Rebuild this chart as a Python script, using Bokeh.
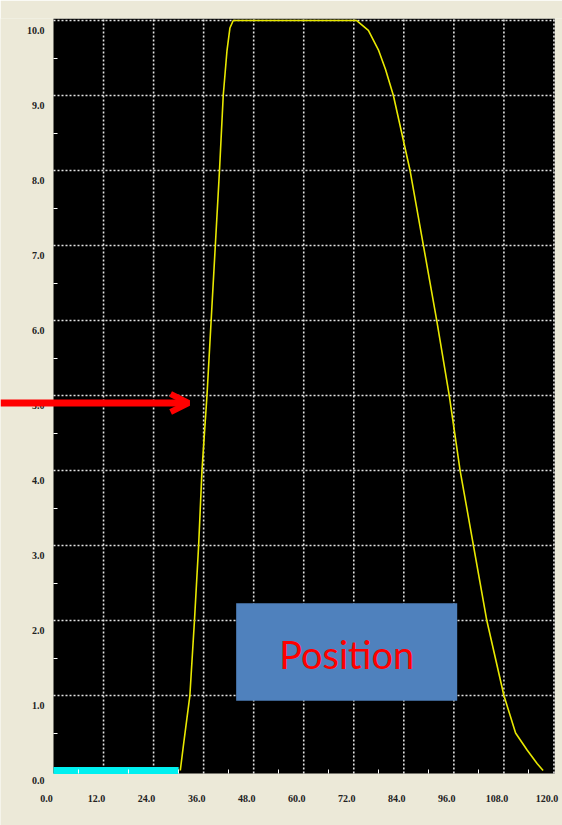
from bokeh.plotting import figure
from bokeh.models import Range1d, FixedTicker, Arrow, OpenHead
from bokeh.core.properties import value
from bokeh.embed import file_html
from bokeh.resources import INLINE

# ---- data ----
curve_x = [30.4, 31.3, 32.7, 33.8, 34.8, 35.6, 36.8, 37.8, 38.8, 39.8, 40.7, 41.6, 42.3, 43.1,
           72.7, 75.5, 77.9, 79.6, 81.5, 85.5, 88.7, 91.9, 94.9, 97.5, 100.7, 103.9, 108.0,
           110.8, 113.6, 116.0, 117.4]
curve_y = [0.0, 0.4, 1.0, 2.0, 3.0, 4.0, 5.0, 6.0, 7.0, 8.0, 9.0, 9.6, 9.9, 10.0,
           10.0, 9.87, 9.61, 9.35, 9.0, 8.0, 7.0, 6.0, 5.0, 4.0, 3.0, 2.0, 1.0,
           0.5, 0.27, 0.09, 0.0]
idle_x = [0.0, 30.0]
idle_y = [0.0, 0.0]

x_ticks = [0, 12, 24, 36, 48, 60, 72, 84, 96, 108, 120]
x_tick_labels = ["0.0", "12.0", "24.0", "36.0", "48.0", "60.0", "72.0", "84.0", "96.0", "108.0", "120.0"]
y_ticks = [0, 1, 2, 3, 4, 5, 6, 7, 8, 9, 10]
y_tick_labels = ["0.0", "1.0", "2.0", "3.0", "4.0", "5.0", "6.0", "7.0", "8.0", "9.0", "10.0"]

arrow_level = 4.9
arrow_from_x = -12.7
arrow_to_x = 32.4

box_left, box_right, box_bottom, box_top = 43.8, 96.8, 0.93, 2.23
box_label = "Position"
box_label_x, box_label_y = 70.3, 1.56

BEIGE = "#ECE9D8"
GRID = "#e4e4e4"
LABEL_FONT = value("Liberation Serif")

# the frame covers the whole page; the black plotting area is drawn inside it
xr = Range1d(-12.71, 122.05)
yr = Range1d(-0.733, 10.027)
area_left, area_right, area_bottom, area_top = 0.0, 120.2, -0.04, 10.027

p = figure(width=562, height=825, output_backend="svg", toolbar_location=None,
           x_range=xr, y_range=yr,
           min_border_left=0, min_border_right=0, min_border_top=18, min_border_bottom=0,
           background_fill_color=BEIGE, border_fill_color=BEIGE, outline_line_color=None)
p.grid.visible = False

p.quad(left=[area_left], right=[area_right], bottom=[area_bottom], top=[area_top],
       fill_color="black", line_color=None, level="image")

# axes only carry the small white minor ticks along the plot edges
p.xaxis.ticker = FixedTicker(ticks=[], minor_ticks=[t + 6 for t in x_ticks[:-1]])
p.yaxis.ticker = FixedTicker(ticks=[], minor_ticks=[t + 0.5 for t in y_ticks[:-1]])
p.xaxis.fixed_location = area_bottom
p.yaxis.fixed_location = area_left
for ax in (p.xaxis[0], p.yaxis[0]):
    ax.axis_line_color = None
    ax.major_tick_line_color = None
    ax.minor_tick_line_color = "white"
    ax.minor_tick_in = 4
    ax.minor_tick_out = 0

# dotted grid
p.segment(x0=x_ticks[1:], x1=x_ticks[1:], y0=[area_bottom] * (len(x_ticks) - 1),
          y1=[area_top] * (len(x_ticks) - 1), line_color=GRID, line_dash="2 2", line_width=1.6)
p.segment(x0=[x_ticks[0]] * (len(y_ticks) - 1), x1=[x_ticks[-1]] * (len(y_ticks) - 1),
          y0=y_ticks[1:], y1=y_ticks[1:], line_color=GRID, line_dash="2 2", line_width=1.6)

# tick labels
p.text(x=x_ticks, y=[y_ticks[0]] * len(x_ticks), text=x_tick_labels, x_offset=-7, y_offset=28,
       text_align="center", text_baseline="middle", text_font=LABEL_FONT,
       text_font_style="bold", text_font_size="10px", text_color="#222222")
p.text(x=[x_ticks[0]] * len(y_ticks), y=y_ticks, text=y_tick_labels, x_offset=-9, y_offset=10,
       text_align="right", text_baseline="middle", text_font=LABEL_FONT,
       text_font_style="bold", text_font_size="10px", text_color="#222222")

p.line(curve_x, curve_y, line_color="#E8E800", line_width=1.6)
p.line(idle_x, idle_y, line_color="#00F0F0", line_width=7)

p.quad(left=[box_left], right=[box_right], bottom=[box_bottom], top=[box_top],
       fill_color="#4F81BD", line_color=None)
p.text(x=[box_label_x], y=[box_label_y], text=[box_label], text_align="center",
       text_baseline="middle", text_color="#FF0000", text_font=value("Lato"),
       text_font_size="38px")

p.add_layout(Arrow(end=OpenHead(line_color="#FF0000", line_width=6, size=18),
                   x_start=arrow_from_x, y_start=arrow_level, x_end=arrow_to_x, y_end=arrow_level,
                   line_color="#FF0000", line_width=7))

open("out.html", "w").write(file_html(p, INLINE))
